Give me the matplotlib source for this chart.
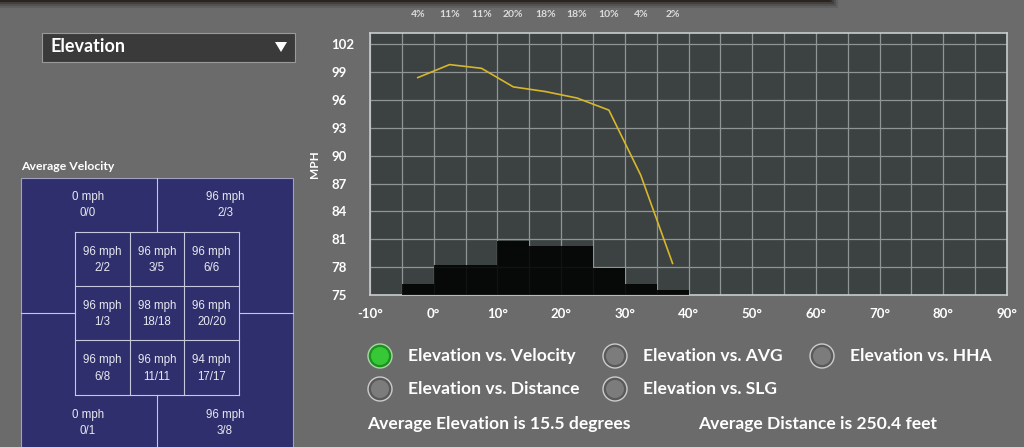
import numpy as np
import matplotlib.pyplot as plt
from matplotlib.patches import Rectangle, Circle, Polygon
from matplotlib.transforms import blended_transform_factory

# ---- data ----
bin_centers = [-2.5, 2.5, 7.5, 12.5, 17.5, 22.5, 27.5, 32.5, 37.5]
pct = [4, 11, 11, 20, 18, 18, 10, 4, 2]
velocity = [98.4, 99.8, 99.4, 97.4, 96.9, 96.2, 94.9, 87.9, 78.4]
x_ticks = [-10, 0, 10, 20, 30, 40, 50, 60, 70, 80, 90]
y_ticks = [75, 78, 81, 84, 87, 90, 93, 96, 99, 102]

zone_inner_mph = [[96, 96, 96], [96, 98, 96], [96, 96, 94]]
zone_inner_cnt = [["2/2", "3/5", "6/6"], ["1/3", "18/18", "20/20"], ["6/8", "11/11", "17/17"]]
zone_outer_mph = [0, 96, 0, 96]          # top-left, top-right, bottom-left, bottom-right
zone_outer_cnt = ["0/0", "2/3", "0/1", "3/8"]

radio_labels = ["Elevation vs. Velocity", "Elevation vs. AVG", "Elevation vs. HHA",
                "Elevation vs. Distance", "Elevation vs. SLG"]
avg_elevation = 15.5
avg_distance = 250.4

BG = "#6b6b6b"
PLOT_BG = "#3c4242"
GRID = "#8f9595"
FONT = "Lato"

fig = plt.figure(figsize=(10.24, 4.47), dpi=100, facecolor=BG)

# ---- UI layer in pixel coordinates ----
ui = fig.add_axes([0, 0, 1, 1])
ui.set_xlim(0, 1024)
ui.set_ylim(447, 0)
ui.axis("off")

# top dark banner with shadow
for i, a in enumerate([0.12, 0.2, 0.3, 0.45]):
    ui.add_patch(Rectangle((0, -20), 838 - i * 2, 28 - i * 2, color="#1c1814", alpha=a, lw=0))
ui.add_patch(Rectangle((0, -20), 830, 22, color="#2a2520", lw=0))

# dropdown
ui.add_patch(Rectangle((42, 33), 253, 29, facecolor="#3a3a3a", edgecolor="#9a9a9a", lw=0.8))
ui.text(51, 47, "Elevation", color="white", fontsize=13, fontweight="bold",
        family=FONT, va="center", ha="left")
ui.add_patch(Polygon([[275, 42], [287, 42], [281, 52]], closed=True, color="white", lw=0))

# strike zone
ui.text(21, 167, "Average Velocity", color="white", fontsize=8.8, fontweight="bold",
        family=FONT, va="center", ha="left")
ui.add_patch(Rectangle((21, 178), 272, 290, facecolor="#2f2f6d", edgecolor="#a0a0c0", lw=0.8))
lc = "#c8c8dc"
ui.plot([157, 157], [178, 232], color=lc, lw=0.8)
ui.plot([157, 157], [395, 447], color=lc, lw=0.8)
ui.plot([21, 75], [313, 313], color=lc, lw=0.8)
ui.plot([239, 293], [313, 313], color=lc, lw=0.8)
xs = [75, 130, 184, 239]
ys = [232, 286, 340, 395]
for xv in xs:
    ui.plot([xv, xv], [ys[0], ys[-1]], color=lc, lw=0.8)
for yv in ys:
    ui.plot([xs[0], xs[-1]], [yv, yv], color=lc, lw=0.8)
tc = "#e8e8f0"
zfs = 8.3
for r in range(3):
    for c in range(3):
        cx = (xs[c] + xs[c + 1]) / 2
        cy = (ys[r] + ys[r + 1]) / 2
        ui.text(cx, cy - 7, f"{zone_inner_mph[r][c]} mph", color=tc, fontsize=zfs,
                family="Liberation Sans", ha="center", va="center")
        ui.text(cx, cy + 9, zone_inner_cnt[r][c], color=tc, fontsize=zfs,
                family="Liberation Sans", ha="center", va="center")
outer_pos = [(88, 197), (225, 197), (88, 415), (225, 415)]
for (ox, oy), m, cnt in zip(outer_pos, zone_outer_mph, zone_outer_cnt):
    ui.text(ox, oy, f"{m} mph", color=tc, fontsize=zfs, family="Liberation Sans",
            ha="center", va="center")
    ui.text(ox, oy + 16, cnt, color=tc, fontsize=zfs, family="Liberation Sans",
            ha="center", va="center")

# radio buttons
radio_pos = [(380, 356), (615, 356), (822, 356), (380, 389), (615, 389)]
for i, ((rx, ry), lab) in enumerate(zip(radio_pos, radio_labels)):
    if i == 0:
        ui.add_patch(Circle((rx, ry), 12, facecolor="#1f8f1f", edgecolor="#a8d8a8", lw=1))
        ui.add_patch(Circle((rx, ry), 9, facecolor="#36c836", lw=0))
    else:
        ui.add_patch(Circle((rx, ry), 12, facecolor="#5a5a5a", edgecolor="#cccccc", lw=1))
        ui.add_patch(Circle((rx, ry), 9, facecolor="#7c7c7c", lw=0))
    ui.text(rx + 28, ry, lab, color="white", fontsize=12.6, fontweight="bold",
            family=FONT, ha="left", va="center")

ui.text(367, 424, f"Average Elevation is {avg_elevation} degrees", color="white",
        fontsize=12.6, fontweight="bold", family=FONT, ha="left", va="center")
ui.text(698, 424, f"Average Distance is {avg_distance} feet", color="white",
        fontsize=12.6, fontweight="bold", family=FONT, ha="left", va="center")

# ---- chart ----
ax = fig.add_axes([370 / 1024, 1 - 295 / 447, 637 / 1024, 262 / 447])
ax.set_facecolor(PLOT_BG)
ax.set_xlim(-10, 90)
ax.set_ylim(75, 103.2)
ax.set_xticks(x_ticks)
ax.set_xticklabels([f"{t}°" for t in x_ticks])
ax.set_xticks(np.arange(-5, 90, 10), minor=True)
ax.set_yticks(y_ticks)
ax.grid(True, which="both", color=GRID, lw=0.9)
ax.set_axisbelow(True)
ax.tick_params(which="both", length=0, colors="white", labelsize=9.5)
ax.tick_params(axis="x", pad=9)
ax.tick_params(axis="y", pad=28)
for lbl in ax.get_yticklabels():
    lbl.set_horizontalalignment("left")
for lbl in ax.get_xticklabels() + ax.get_yticklabels():
    lbl.set_fontweight("bold")
    lbl.set_family(FONT)
for s in ax.spines.values():
    s.set_color("#c8cccc")
    s.set_linewidth(1.2)
ax.set_ylabel("MPH", color="white", fontsize=8.5, fontweight="bold", family=FONT)
ax.yaxis.set_label_coords(-50 / 637, 0.5)

ax.plot(bin_centers, velocity, color="#d8b62a", lw=1.2, zorder=3)

ax2 = ax.twinx()
ax2.set_ylim(0, 97)
ax2.bar(bin_centers, pct, width=5, color="black", alpha=0.88, lw=0)
ax2.set_yticks([])
for s in ax2.spines.values():
    s.set_visible(False)

tr = blended_transform_factory(ax.transData, ax.transAxes)
for xc, p in zip(bin_centers, pct):
    ax.text(xc, 1.07, f"{p}%", transform=tr, color="#dcdcdc", fontsize=7.5,
            fontweight="bold", family=FONT, ha="center", va="center")

fig.savefig("out.png", dpi=100, facecolor=BG)
